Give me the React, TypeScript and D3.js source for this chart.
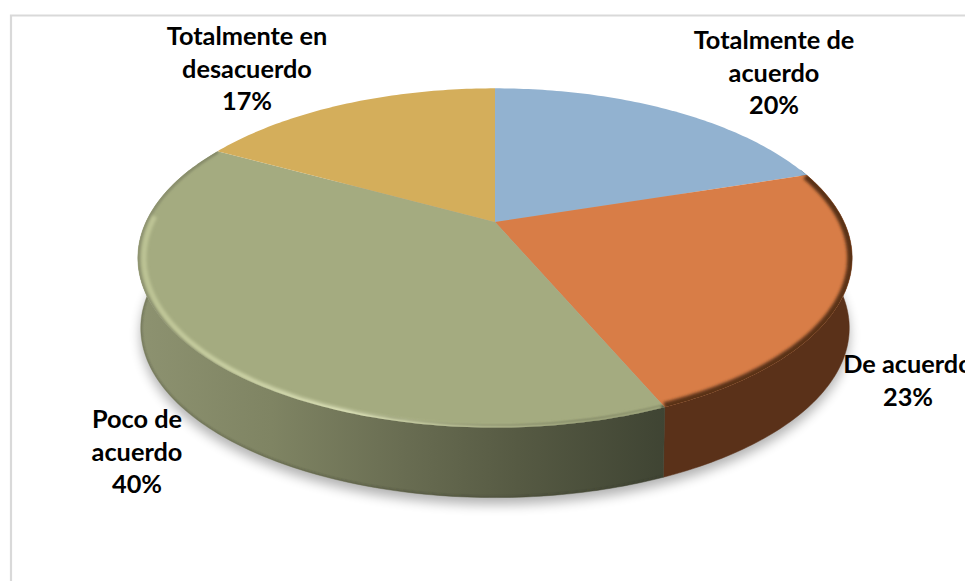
import React from "react";
import * as d3 from "d3";

const categories = ["Totalmente de acuerdo", "De acuerdo", "Poco de acuerdo", "Totalmente en desacuerdo"];
const values = [20, 23.6, 39.4, 17];
const percentLabels = ["20%", "23%", "40%", "17%"];
const topColors = ["#92b2d0", "#d87d47", "#a4ab80", "#d4ae5b"];
const sideColors = ["#4c6a85", "#5a3119", "url(#greenSide)", "#7a6128"];
const labelLines = [["Totalmente de", "acuerdo"], ["De acuerdo"], ["Poco de", "acuerdo"], ["Totalmente en", "desacuerdo"]];
const labelPos = [[774, 49], [908, 373], [137, 428], [247, 45]];

const W = 965, H = 581;
const cx = 495, cy = 222, R = 349, A = 162, K = 0.212, DEPTH = 70, R2 = 0.992;
const RIM_END = (272 * Math.PI) / 180;
const EDGE_END = (250 * Math.PI) / 180;

// perspective projection of the disc
function proj(a: number, r = R, dy = 0): [number, number] {
  const X = Math.sin(a), Y = -Math.cos(a);
  const d = 1 - K * Y;
  return [cx + (r * X) / d, cy + dy + (A * Y) / d];
}
function arcPts(a0: number, a1: number, r = R, dy = 0) {
  const n = Math.max(2, Math.ceil(Math.abs(a1 - a0) * 60));
  return d3.range(n + 1).map((i) => proj(a0 + ((a1 - a0) * i) / n, r, dy));
}
const line = d3.line<[number, number]>();
const slices = d3.pie<number>().sort(null)(values);
const clampFront = (s: { startAngle: number; endAngle: number }) => {
  const a0 = Math.max(s.startAngle, Math.PI / 2 - 0.35);
  const a1 = Math.min(s.endAngle, (3 * Math.PI) / 2 + 0.35);
  return a1 > a0 ? [a0, a1] : null;
};

export default function App() {
  const s1 = slices[1], s2 = slices[2];
  return (
    <svg width={W} height={H} style={{ position: "absolute", left: 0, top: 0, background: "#fff" }}>
      <defs>
        <linearGradient id="greenSide" gradientUnits="userSpaceOnUse" x1={140} x2={665} y1={0} y2={0}>
          <stop offset="0" stopColor="#8d9270" />
          <stop offset="0.25" stopColor="#7f8463" />
          <stop offset="0.5" stopColor="#696d52" />
          <stop offset="0.72" stopColor="#565a43" />
          <stop offset="1" stopColor="#3f4433" />
        </linearGradient>
        <linearGradient id="greenRim" gradientUnits="userSpaceOnUse" x1={140} x2={665} y1={0} y2={0}>
          <stop offset="0" stopColor="#bcc394" />
          <stop offset="0.4" stopColor="#dde3b8" />
          <stop offset="0.65" stopColor="#b6bc91" />
          <stop offset="0.85" stopColor="#a4ab80" />
          <stop offset="1" stopColor="#a4ab80" />
        </linearGradient>
        <filter id="soft" x="-10%" y="-10%" width="120%" height="120%"><feGaussianBlur stdDeviation="1.2" /></filter>
        <filter id="softer" x="-10%" y="-10%" width="120%" height="120%"><feGaussianBlur stdDeviation="1.8" /></filter>
        <filter id="lip" x="-10%" y="-10%" width="120%" height="120%"><feGaussianBlur stdDeviation="0.8" /></filter>
        <filter id="shadow" x="-10%" y="-10%" width="120%" height="120%"><feGaussianBlur stdDeviation="6" /></filter>
        {slices.map((s, i) => (
          <clipPath id={`clip${i}`} key={i}>
            <path d={line([[cx, cy], ...arcPts(s.startAngle, s.endAngle)])! + "Z"} />
          </clipPath>
        ))}
        <clipPath id="sideClip">
          <path d={line([...arcPts(s2.startAngle, s2.endAngle), ...arcPts(s2.endAngle, s2.startAngle, R * R2, DEPTH)])! + "Z"} />
        </clipPath>
      </defs>
      <path d={`M11 581V15.5H${W}`} fill="none" stroke="#d9d9d9" strokeWidth={2.2} />
      <path d={line(arcPts(0, 2 * Math.PI, R * R2, DEPTH + 7))! + "Z"} fill="#000" opacity={0.3} filter="url(#shadow)" />
      {slices.map((s, i) => {
        const c = clampFront(s);
        if (!c) return null;
        const path = line([...arcPts(c[0], c[1]), ...arcPts(c[1], c[0], R * R2, DEPTH)])! + "Z";
        return <path key={i} d={path} fill={sideColors[i]} stroke={sideColors[i]} strokeWidth={0.5} />;
      })}
      <g clipPath="url(#sideClip)">
        <path d={line(arcPts(s2.startAngle, s2.endAngle, R * R2, DEPTH))!} fill="none" stroke="#33362a" strokeOpacity={0.35} strokeWidth={2.5} filter="url(#lip)" />
      </g>
      {slices.map((s, i) => (
        <path key={i} d={line([[cx, cy], ...arcPts(s.startAngle, s.endAngle)])! + "Z"} fill={topColors[i]} />
      ))}
      <g clipPath="url(#clip1)">
        <path d={line(arcPts(s1.startAngle, s1.endAngle))!} fill="none" stroke="#5a3119" strokeWidth={10} filter="url(#softer)" />
      </g>
      <g clipPath="url(#clip2)">
        <path d={line(arcPts(s2.startAngle, s2.endAngle))!} fill="none" stroke="url(#greenSide)" strokeWidth={5} filter="url(#soft)" />
        <path d={line(arcPts(s2.startAngle, RIM_END, R - 6))!} fill="none" stroke="url(#greenRim)" strokeWidth={5} filter="url(#softer)" />
      </g>
      <g fontFamily="Lato, Carlito, sans-serif" fontWeight={700} fontSize={25.3} fill="#000" textAnchor="middle">
        {categories.map((c, i) => {
          const lines = [...labelLines[i], percentLabels[i]];
          return (
            <text key={c} x={labelPos[i][0]} y={labelPos[i][1]}>
              {lines.map((l, j) => (
                <tspan key={j} x={labelPos[i][0]} dy={j === 0 ? 0 : 32.5}>{l}</tspan>
              ))}
            </text>
          );
        })}
      </g>
    </svg>
  );
}
